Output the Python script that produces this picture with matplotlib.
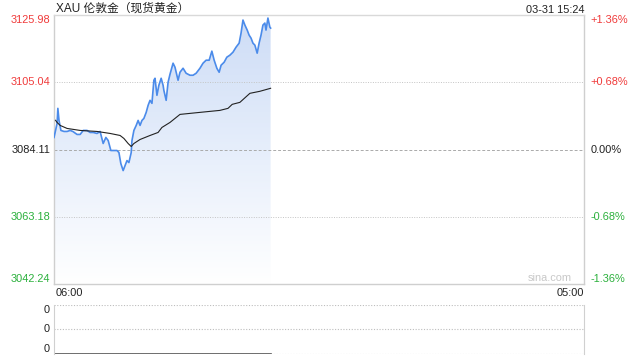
#!/usr/bin/env python3

import matplotlib
matplotlib.use('Agg')
import matplotlib.pyplot as plt
from matplotlib.colors import LinearSegmentedColormap
from matplotlib.patches import Polygon
import numpy as np

plt.rcParams['font.family'] = ['Liberation Sans', 'Noto Sans CJK SC', 'DejaVu Sans']

# minutes after 06:00, gold price (USD/oz)
price_minutes = [0, 8, 10, 13, 18, 26, 34, 42, 49, 60, 68, 76, 86, 94, 102, 112, 120,
                 128, 135, 141, 148, 156, 164, 169, 174, 180, 185, 190, 195, 201, 203,
                 208, 214, 219, 224, 229, 234, 240, 245, 250, 255, 260, 263, 268, 273,
                 279, 284, 286, 292, 297, 302, 310, 315, 323, 328, 336, 344, 354, 362,
                 370, 380, 388, 396, 404, 411, 417, 424, 430, 435, 443, 450, 458, 466,
                 474, 482, 487, 492, 497, 503, 508, 513, 518, 523, 529, 534, 539, 544,
                 549, 552, 557, 562, 564]
price_values = [3087.86, 3092.23, 3096.92, 3093.17, 3090.05, 3089.73, 3089.73, 3090.05,
                3089.73, 3088.80, 3088.80, 3090.05, 3090.05, 3089.42, 3089.42, 3089.11,
                3089.73, 3085.98, 3087.86, 3086.92, 3083.80, 3083.80, 3083.80, 3083.17,
                3079.74, 3077.55, 3079.11, 3080.67, 3080.05, 3083.17, 3086.92, 3090.05,
                3091.61, 3093.17, 3091.61, 3093.17, 3093.79, 3095.67, 3097.86, 3099.42,
                3098.48, 3105.67, 3106.29, 3100.98, 3104.10, 3106.29, 3104.10, 3102.54,
                3099.42, 3105.04, 3107.54, 3110.98, 3109.73, 3105.67, 3108.16, 3109.41,
                3107.85, 3107.23, 3107.23, 3107.85, 3109.41, 3110.98, 3111.91, 3111.91,
                3114.73, 3111.91, 3109.41, 3108.16, 3110.35, 3111.29, 3112.85, 3113.48,
                3114.41, 3115.97, 3117.22, 3120.35, 3124.41, 3122.85, 3121.29, 3119.72,
                3118.79, 3117.22, 3116.60, 3114.10, 3117.22, 3119.72, 3122.85, 3123.47,
                3121.29, 3125.03, 3122.22, 3121.91]

avg_minutes = [4, 8, 16, 34, 68, 112, 146, 172, 182, 193, 201, 208, 224, 250, 271, 281,
               302, 328, 380, 432, 453, 464, 484, 510, 536, 564]
avg_values = [3093.2, 3092.54, 3091.61, 3090.67, 3090.05, 3089.73, 3089.11, 3088.48,
              3087.55, 3085.98, 3085.05, 3085.98, 3087.23, 3088.48, 3089.42, 3090.98,
              3092.54, 3095.04, 3095.67, 3096.29, 3096.92, 3098.17, 3098.79, 3101.60,
              3102.23, 3103.17]

price_ticks = [3042.24, 3063.18, 3084.11, 3105.04, 3125.98]
pct_labels = ['-1.36%', '-0.68%', '0.00%', '+0.68%', '+1.36%']
volume_labels = ['0', '0', '0']
time_labels = ['06:00', '05:00']
session_minutes = 1380

title = 'XAU 伦敦金（现货黄金）'
stamp = '03-31 15:24'

RED = '#f03a3a'
GREEN = '#2bb03c'
DARK = '#222222'
label_colors = [GREEN, GREEN, DARK, RED, RED]

fig = plt.figure(figsize=(6.4, 3.6), dpi=100)
ax = fig.add_axes([0.0844, 0.2111, 0.8281, 0.7472])
vax = fig.add_axes([0.0844, 0.0167, 0.8281, 0.1361])

ymin, ymax = price_ticks[0], price_ticks[-1]
ax.set_xlim(0, session_minutes)
ax.set_ylim(ymin, ymax)

# gradient fill under the price line
cmap = LinearSegmentedColormap.from_list('fill', ['#ffffff', '#e6eefb', '#cddcf6'])
grad = np.linspace(0, 1, 256).reshape(-1, 1)
img = ax.imshow(grad, cmap=cmap, aspect='auto', origin='lower',
                extent=[price_minutes[0], price_minutes[-1], ymin, ymax], zorder=1)
poly_pts = list(zip(price_minutes, price_values))
poly_pts += [(price_minutes[-1], ymin), (price_minutes[0], ymin)]
clip = Polygon(poly_pts, closed=True, transform=ax.transData, facecolor='none', edgecolor='none')
ax.add_patch(clip)
img.set_clip_path(clip)

ax.plot(price_minutes, price_values, color='#4b8bea', lw=1.2, zorder=3)
ax.plot(avg_minutes, avg_values, color='#222222', lw=0.8, zorder=4)

for i, v in enumerate(price_ticks[1:-1], start=1):
    if i == 2:
        ax.axhline(v, color='#aaaaaa', lw=0.7, ls=(0, (3, 2)), zorder=2)
    else:
        ax.axhline(v, color='#c4c4c4', lw=0.7, ls=(0, (1, 1.5)), zorder=2)

ax.set_xticks([])
ax.set_yticks([])
for side, c in [('top', '#d9d9d9'), ('left', '#cfcfcf'), ('right', '#cfcfcf'), ('bottom', '#cfcfcf')]:
    ax.spines[side].set_color(c)
    ax.spines[side].set_linewidth(1.0)

ytrans = ax.get_yaxis_transform()
for i, (v, pl, c) in enumerate(zip(price_ticks, pct_labels, label_colors)):
    va = 'bottom' if i == 0 else ('top' if i == len(price_ticks) - 1 else 'center')
    ax.text(-0.007, v, f'{v:.2f}', transform=ytrans, ha='right', va=va,
            fontsize=7.9, color=c)
    ax.text(1.012, v, pl, transform=ytrans, ha='left', va=va,
            fontsize=7.9, color=c)

ax.text(0.003, -0.015, time_labels[0], transform=ax.transAxes, ha='left', va='top',
        fontsize=7.9, color=DARK)
ax.text(1.0, -0.015, time_labels[1], transform=ax.transAxes, ha='right', va='top',
        fontsize=7.9, color=DARK)
ax.text(0.978, 0.005, 'sina.com', transform=ax.transAxes, ha='right', va='bottom',
        fontsize=7.9, color='#c8c8c8')

fig.text(0.0875, 0.992, title, ha='left', va='top', fontsize=8.5, color=DARK)
fig.text(0.9125, 0.985, stamp, ha='right', va='top', fontsize=7.9, color=DARK)

# volume panel
vax.set_xlim(0, session_minutes)
vax.set_ylim(0, 2)
for v in [0, 1, 2]:
    vax.axhline(v, color='#bdbdbd', lw=0.8, ls=(0, (1, 1.5)), zorder=1)
vax.plot([price_minutes[0], price_minutes[-1]], [0, 0], color='#555555', lw=1.2, zorder=2)
vax.set_xticks([])
vax.set_yticks([])
for side in ['top', 'bottom']:
    vax.spines[side].set_visible(False)
for side in ['left', 'right']:
    vax.spines[side].set_color('#d0d0d0')
vtrans = vax.get_yaxis_transform()
for v, lab in zip([0, 1, 2], volume_labels):
    va = 'bottom' if v == 0 else ('top' if v == 2 else 'center')
    vax.text(-0.008, v, lab, transform=vtrans, ha='right', va=va, fontsize=7.9, color=DARK)

fig.savefig('out.png', dpi=100)
